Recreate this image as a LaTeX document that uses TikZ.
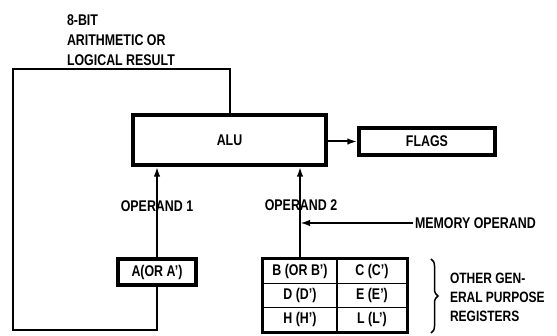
\documentclass[tikz,border=0pt]{standalone}
\usepackage{fontspec}
\setmainfont{Liberation Sans}[FakeStretch=0.8]
\usetikzlibrary{positioning, fit, decorations.pathreplacing, arrows.meta}

\begin{document}
\begin{tikzpicture}[x=1pt, y=-1pt, line width=2pt,
    >={Latex[length=10pt, width=6.5pt]},
    every node/.style = {font=\fontsize{15.5}{20}\selectfont\bfseries},
    box/.style = {draw, line width=3.2pt, inner sep=0pt},
    cell/.style = {draw, line width=1.3pt, minimum height=24.3pt, inner sep=0pt}]

% Page frame
\useasboundingbox (0,0) rectangle (557,336);

% ALU and flags
\node[box, minimum width=193pt, minimum height=50pt] (ALU) at (229.5,140) {ALU};
\node[box, minimum width=136pt, minimum height=27pt] (FLAGS) at (427,141.5) {FLAGS};

% Accumulator
\node[box, minimum width=78pt, minimum height=26pt] (A) at (157,272) {A(OR A')};

% Register pairs
\node[cell, minimum width=74pt] (B) at (300,271.3) {B (OR B')};
\node[cell, minimum width=70pt] (C) at (372,271.3) {C (C')};
\node[cell, minimum width=74pt] (D) at (300,295.6) {D (D')};
\node[cell, minimum width=70pt] (E) at (372,295.6) {E (E')};
\node[cell, minimum width=74pt] (H) at (300,319.9) {H (H')};
\node[cell, minimum width=70pt] (L) at (372,319.9) {L (L')};
\node[box, fit=(B)(L)] (regs) {};

% Operands
\draw[->] (A.north) -- (A.north |- ALU.south);
\node (op1) at (157,206) {OPERAND 1};
\draw[->] (B.north) -- (B.north |- ALU.south);
\node (op2) at (301,205) {OPERAND 2};
\node[anchor=west, inner sep=1pt] (mem) at (413,223) {MEMORY OPERAND};
\draw[->] (mem.west) -- (mem.west -| B.north);

% Flags
\draw[->] (ALU.east |- FLAGS.west) -- (FLAGS.west);

% Result back to A
\coordinate (loopbl) at (13,330);
\coordinate (looptl) at (13,69);
\draw (A.south) |- (loopbl) -- (looptl) -| (ALU.north);
\node[anchor=north west, align=left, inner sep=0pt] (result) at (66,14) {8-BIT\\ARITHMETIC OR\\LOGICAL RESULT};

% Other registers
\draw[decorate, decoration={brace, amplitude=7pt}, line width=1.5pt] (431,259) -- (431,333);
\node[anchor=west, align=left, inner sep=0pt, font=\fontsize{15}{19}\selectfont\bfseries] (other) at (449,297) {OTHER GEN-\\ERAL PURPOSE\\REGISTERS};
\end{tikzpicture}
\end{document}
